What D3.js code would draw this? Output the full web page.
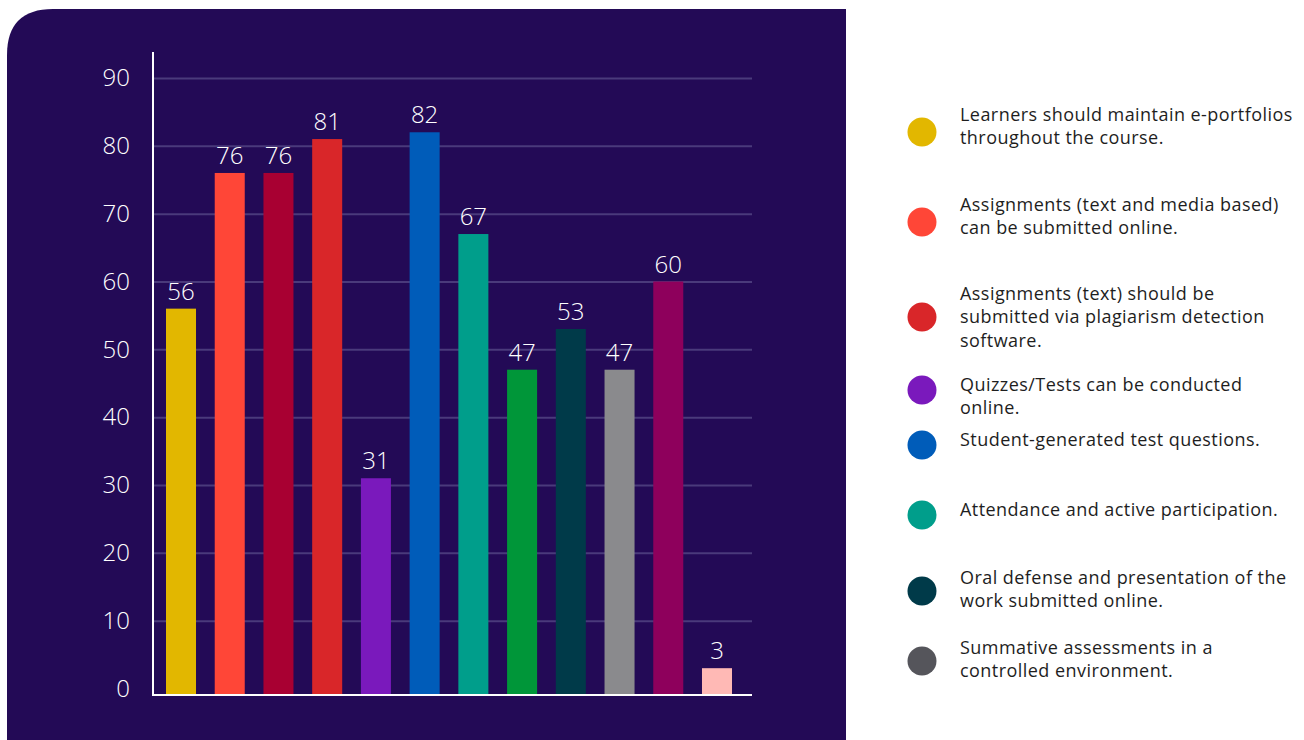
<!DOCTYPE html>
<html>
<head>
<meta charset="utf-8">
<script src="https://cdn.jsdelivr.net/npm/d3@7"></script>
<style>
  html, body { margin: 0; padding: 0; background: #ffffff; }
  svg { display: block; }
</style>
</head>
<body>
<svg id="chart" width="1304" height="740"></svg>
<script>
// Share of respondents (%) per assessment practice
const barValues = [56, 76, 76, 81, 31, 82, 67, 47, 53, 47, 60, 3];
const barColors = ["#e2b700", "#ff4637", "#a80032", "#d92629", "#7a19bc", "#005cb9",
                   "#009e8b", "#009639", "#003a49", "#8a8a8d", "#8e005c", "#ffb9b5"];
const yTicks = [0, 10, 20, 30, 40, 50, 60, 70, 80, 90];

// Legend entries, already broken into lines
const legendLabels = [
  ["Learners should maintain e-portfolios", "throughout the course."],
  ["Assignments (text and media based)", "can be submitted online."],
  ["Assignments (text) should be", "submitted via plagiarism detection", "software."],
  ["Quizzes/Tests can be conducted", "online."],
  ["Student-generated test questions."],
  ["Attendance and active participation."],
  ["Oral defense and presentation of the", "work submitted online."],
  ["Summative assessments in a", "controlled environment."]
];
const legendColors = ["#e2b700", "#ff4637", "#d92629", "#7a19bc", "#005cb9", "#009e8b", "#003a49", "#55555b"];

// Legend row layout (first text baseline and dot centre offset)
const legendBaseline = [121, 211, 300, 391, 446, 516, 584, 654];
const legendDotOffset = [11, 11, 17, -1, -1, -1, 7, 7];

const numberFont = "'Open Sans', sans-serif";
const textFont = "'Open Sans', sans-serif";

const svg = d3.select("#chart");

// Dark panel with a rounded top-left corner
const px0 = 7, py0 = 9, px1 = 846, py1 = 740, r = 46;
svg.append("path")
  .attr("d", `M${px0},${py1} L${px0},${py0 + r} Q${px0},${py0} ${px0 + r},${py0} L${px1},${py0} L${px1},${py1} Z`)
  .attr("fill", "#230a56");

const plotLeft = 153, plotRight = 752, axisTop = 52, baseY = 696;

const x = d3.scaleBand()
  .domain(d3.range(barValues.length))
  .range([166, 732])
  .paddingInner(0.384)
  .paddingOuter(0);

const y = d3.scaleLinear()
  .domain([-1.1, 90])
  .range([baseY, 78]);

// Horizontal gridlines
svg.append("g")
  .attr("transform", `translate(${plotLeft},0)`)
  .call(d3.axisLeft(y).tickValues(yTicks.filter(t => t > 0)).tickSize(-(plotRight - plotLeft)).tickFormat(""))
  .call(g => g.select(".domain").remove())
  .call(g => g.selectAll("line").attr("stroke", "#4a3a7b").attr("stroke-width", 2));

// Tick labels
svg.append("g")
  .attr("transform", `translate(${plotLeft},0)`)
  .call(d3.axisLeft(y).tickValues(yTicks).tickSize(0).tickPadding(23))
  .call(g => g.select(".domain").remove())
  .call(g => g.selectAll("text")
    .attr("fill", "#ffffff")
    .attr("font-family", numberFont)
    .attr("font-weight", 300)
    .attr("font-size", 24));

// Bars
svg.append("g")
  .selectAll("rect")
  .data(barValues)
  .join("rect")
  .attr("x", (d, i) => x(i))
  .attr("y", d => y(d))
  .attr("width", x.bandwidth())
  .attr("height", d => y(-1.1) - y(d))
  .attr("fill", (d, i) => barColors[i]);

// Value labels
svg.append("g")
  .selectAll("text")
  .data(barValues)
  .join("text")
  .attr("x", (d, i) => x(i) + x.bandwidth() / 2)
  .attr("y", d => y(d) - 9)
  .attr("text-anchor", "middle")
  .attr("fill", "#ffffff")
  .attr("font-family", numberFont)
  .attr("font-weight", 300)
  .attr("font-size", 24)
  .text(d => d);

// Axis lines
svg.append("line")
  .attr("x1", plotLeft).attr("x2", plotLeft)
  .attr("y1", axisTop).attr("y2", baseY)
  .attr("stroke", "#ffffff").attr("stroke-width", 2);
svg.append("line")
  .attr("x1", plotLeft - 1).attr("x2", plotRight)
  .attr("y1", baseY - 1).attr("y2", baseY - 1)
  .attr("stroke", "#ffffff").attr("stroke-width", 2);

// Legend
const legend = svg.append("g")
  .selectAll("g")
  .data(legendLabels)
  .join("g");

legend.append("circle")
  .attr("cx", 922)
  .attr("cy", (d, i) => legendBaseline[i] + legendDotOffset[i])
  .attr("r", 14.5)
  .attr("fill", (d, i) => legendColors[i]);

legend.append("text")
  .attr("x", 960)
  .attr("y", (d, i) => legendBaseline[i])
  .attr("fill", "#1e1e1e")
  .attr("font-family", textFont)
  .attr("font-size", 18)
  .attr("letter-spacing", 0.45)
  .selectAll("tspan")
  .data(d => d)
  .join("tspan")
  .attr("x", 960)
  .attr("dy", (d, j) => j === 0 ? 0 : 23.4)
  .text(d => d);
</script>
</body>
</html>
